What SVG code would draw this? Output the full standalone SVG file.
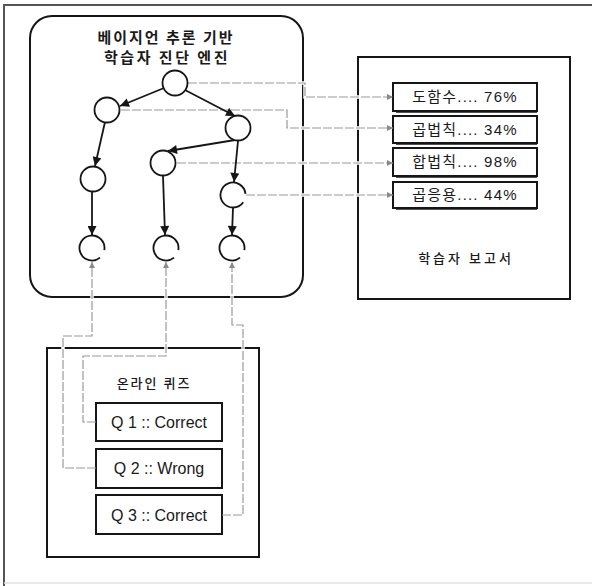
<svg xmlns="http://www.w3.org/2000/svg" width="592" height="586" viewBox="0 0 592 586">
<style>
  .box{fill:#fff;stroke:#161616;stroke-width:2}
  .node{fill:#fff;stroke:#161616;stroke-width:1.8}
  .open{fill:none;stroke:#161616;stroke-width:1.8}
  .edge{fill:none;stroke:#161616;stroke-width:1.8}
  .dash{fill:none;stroke:#9a9a9a;stroke-width:1.2;stroke-dasharray:9 2}
  .halo{fill:none;stroke:#fff;stroke-width:3.5}
  .t{font-family:"Liberation Sans","Noto Sans CJK KR",sans-serif;fill:#1a1a1a;text-anchor:middle}
  .ko{font-family:"Noto Sans CJK KR",sans-serif;fill:#1a1a1a;text-anchor:middle}
  .it{letter-spacing:1.2px}
</style>
<defs>
  <marker id="ah" viewBox="0 0 10 10" refX="10" refY="5" markerWidth="10" markerHeight="9" markerUnits="userSpaceOnUse" orient="auto">
    <path d="M0,0 L10,5 L0,10 z" fill="#161616"/>
  </marker>
  <marker id="gh" viewBox="0 0 10 10" refX="10" refY="5" markerWidth="7" markerHeight="6" markerUnits="userSpaceOnUse" orient="auto">
    <path d="M0,0 L10,5 L0,10 z" fill="#8a8a8a"/>
  </marker>
</defs>
<rect width="592" height="586" fill="#fff"/>
<g id="frame">
  <path d="M4,586 V5 H592" fill="none" stroke="#555" stroke-width="2"/>
  <path d="M4,583 H592" fill="none" stroke="#e2e2e2" stroke-width="1.5"/>
</g>
<g id="engine">
  <rect class="box" x="30" y="16" width="273" height="281" rx="22" stroke-width="1.6"/>
  <text class="ko" x="166" y="43" font-size="15" font-weight="bold" letter-spacing="2">베이지언 추론 기반</text>
  <text class="ko" x="167" y="63" font-size="15" font-weight="bold" letter-spacing="2.5">학습자 진단 엔진</text>
</g>
<g id="report">
  <rect class="box" x="358" y="57" width="212" height="242"/>
  <text class="ko" x="466" y="263" font-size="13" font-weight="500" letter-spacing="3">학습자 보고서</text>
</g>
<g id="item1">
  <rect class="box" x="393" y="83" width="144" height="28"/>
  <path d="M396,111.5 H537" stroke="#161616" stroke-width="2.5"/>
  <text class="t it" x="465" y="102" font-size="15">도함수.... 76%</text>
</g>
<g id="item2">
  <rect class="box" x="393" y="116" width="144" height="27"/>
  <path d="M396,143.5 H537" stroke="#161616" stroke-width="2.5"/>
  <text class="t it" x="465" y="135" font-size="15">곱법칙.... 34%</text>
</g>
<g id="item3">
  <rect class="box" x="393" y="148" width="144" height="28"/>
  <path d="M396,176.5 H537" stroke="#161616" stroke-width="2.5"/>
  <text class="t it" x="465" y="167" font-size="15">합법칙.... 98%</text>
</g>
<g id="item4">
  <rect class="box" x="393" y="182" width="144" height="26"/>
  <path d="M396,208.5 H537" stroke="#161616" stroke-width="2.5"/>
  <text class="t it" x="465" y="200" font-size="15">곱응용.... 44%</text>
</g>
<g id="quiz">
  <rect class="box" x="47" y="348" width="212" height="209" stroke-width="2.4"/>
  <text class="ko" x="154" y="388" font-size="13" font-weight="500" letter-spacing="2">온라인 퀴즈</text>
</g>
<g id="q1">
  <rect class="box" x="96" y="403" width="126" height="38"/>
  <text class="t" x="159" y="428" font-size="16">Q 1 :: Correct</text>
</g>
<g id="q2">
  <rect class="box" x="96" y="449" width="126" height="39"/>
  <text class="t" x="159" y="474" font-size="16">Q 2 :: Wrong</text>
</g>
<g id="q3">
  <rect class="box" x="96" y="495" width="126" height="39"/>
  <text class="t" x="159" y="521" font-size="16">Q 3 :: Correct</text>
</g>
<g id="connectors">
  <g id="halos">
    <path class="halo" d="M189,83 H305 V97 H390"/>
    <path class="halo" d="M122,110 H287 V128 H390"/>
    <path class="halo" d="M178,163 H390"/>
    <path class="halo" d="M247,195 H390"/>
    <path class="halo" d="M95,422 H83 V356 H166 V266"/>
    <path class="halo" d="M95,468 H63 V336 H92 V266"/>
    <path class="halo" d="M223,515 H243 V325 H232 V266"/>
  </g>
  <path class="dash" d="M188,83 H305 V97 H393" marker-end="url(#gh)"/>
  <path class="dash" d="M121,110 H287 V128 H393" marker-end="url(#gh)"/>
  <path class="dash" d="M177,163 H393" marker-end="url(#gh)"/>
  <path class="dash" d="M246,195 H393" marker-end="url(#gh)"/>
  <path class="dash" d="M96,422 H83 V356 H166 V262" marker-end="url(#gh)"/>
  <path class="dash" d="M96,468 H63 V336 H92 V262" marker-end="url(#gh)"/>
  <path class="dash" d="M222,515 H243 V325 H232 V262" marker-end="url(#gh)"/>
  <path class="edge" d="M164,88 L120,106" marker-end="url(#ah)"/>
  <path class="edge" d="M185,90 L235,116" marker-end="url(#ah)"/>
  <path class="edge" d="M105,122 L95,166" marker-end="url(#ah)"/>
  <path class="edge" d="M235,140 L168,151" marker-end="url(#ah)"/>
  <path class="edge" d="M238,141 L234,182" marker-end="url(#ah)"/>
  <path class="edge" d="M92,192 L92,235" marker-end="url(#ah)"/>
  <path class="edge" d="M163,176 L165,235" marker-end="url(#ah)"/>
  <path class="edge" d="M233,208 L232,235" marker-end="url(#ah)"/>
</g>
<g id="n-root"><circle class="node" cx="175" cy="83" r="12.5"/></g>
<g id="n-l1a"><circle class="node" cx="107" cy="110" r="12.5"/></g>
<g id="n-l1b"><circle class="node" cx="238" cy="128" r="12.5"/></g>
<g id="n-l2a"><circle class="node" cx="93" cy="179" r="12.5"/></g>
<g id="n-l2b"><circle class="node" cx="163" cy="163" r="12.5"/></g>
<g id="n-l2c"><path class="open" d="M243.24,202.17 A12.5,12.5 0 1 1 245.45,193.91"/></g>
<g id="n-leafa"><path class="open" d="M100.03,257.58 A12.5,12.5 0 1 1 104.31,250.17"/></g>
<g id="n-leafb"><path class="open" d="M174.03,257.58 A12.5,12.5 0 1 1 178.31,250.17"/></g>
<g id="n-leafc"><path class="open" d="M240.03,257.58 A12.5,12.5 0 1 1 244.31,250.17"/></g>
</svg>
